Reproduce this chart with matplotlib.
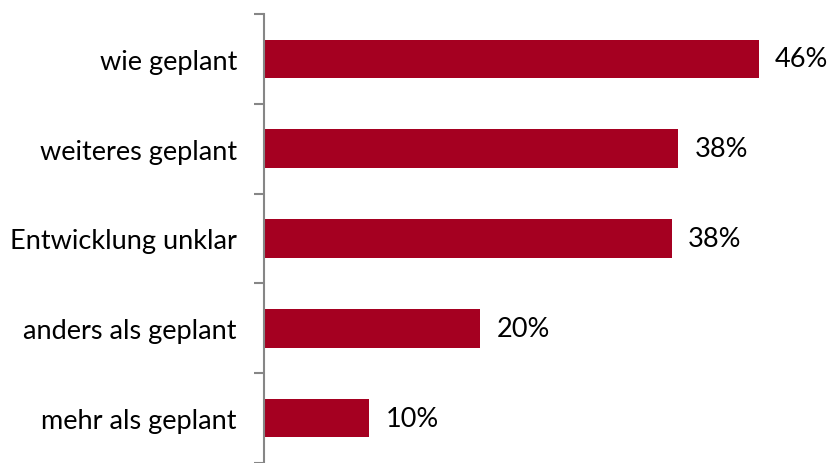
import numpy as np
import matplotlib.pyplot as plt

categories = ["wie geplant", "weiteres geplant", "Entwicklung unklar", "anders als geplant", "mehr als geplant"]
values = [46.0, 38.5, 37.9, 20.1, 9.8]
labels = ["46%", "38%", "38%", "20%", "10%"]

plt.rcParams['font.family'] = ['Lato', 'DejaVu Sans']

fig = plt.figure(figsize=(8.27, 4.64), dpi=100)
ax = fig.add_axes([264 / 827, 0, 538 / 827, 449 / 464])

y = np.arange(len(categories))
ax.barh(y, values, height=0.43, color='#A50021')
for yi, v, lab in zip(y, values, labels):
    ax.text(v + 1.5, yi, lab, va='center', ha='left', fontsize=19.5, color='black')

ax.set_xlim(0, 50)
ax.set_ylim(len(categories) - 0.5, -0.5)
ax.set_yticks(y)
ax.set_yticklabels(categories, fontsize=19.5)
ax.tick_params(axis='y', which='major', length=0, pad=19.5)
ax.set_yticks(np.arange(-0.5, len(categories)), minor=True)
ax.tick_params(axis='y', which='minor', length=7, width=1.5, color='#868686')
ax.set_xticks([])
for s in ['top', 'right', 'bottom']:
    ax.spines[s].set_visible(False)
ax.spines['left'].set_color('#868686')
ax.spines['left'].set_linewidth(1.5)

plt.savefig("out.png", dpi=100)
